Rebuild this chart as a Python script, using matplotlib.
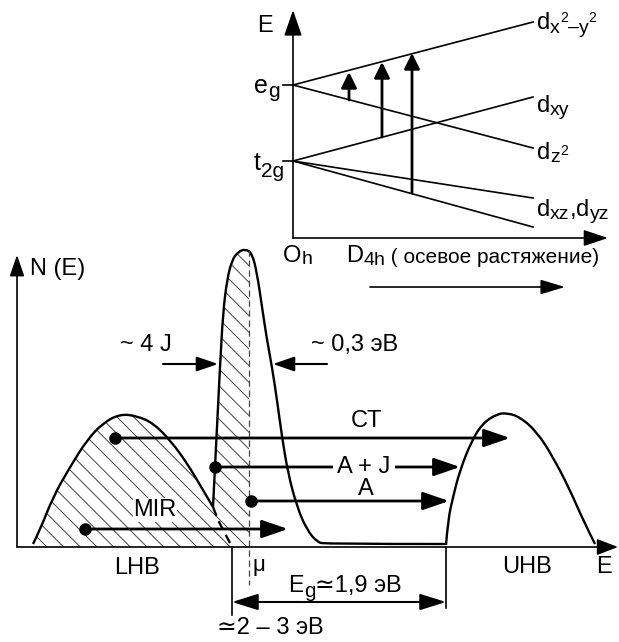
import numpy as np
import matplotlib
matplotlib.use('Agg')
import matplotlib.pyplot as plt
from matplotlib.path import Path
from matplotlib.patches import PathPatch, Polygon

plt.rcParams['font.family'] = ['Liberation Sans', 'DejaVu Sans']
plt.rcParams['hatch.linewidth'] = 0.7

# --- crystal field splitting (top) ---
eg_level = 85
t2g_level = 161
level_x0 = 293
level_x1 = 533
# end heights of the split levels
dx2y2_end = 22
dz2_end = 148
dxy_end = 97
dxz_end = 198
dyz_end = 227
# vertical transitions: x, bottom, top
trans_x = [349, 382, 412]
trans_lo = [100, 137, 193]
trans_hi = [72, 62, 53]

# --- density of states (bottom) ---
lhb_x = [33, 40, 53, 70, 87, 103, 120, 137, 153, 170, 187, 203, 213]
lhb_y = [544, 530, 497, 467, 440, 423, 414, 416, 423, 440, 463, 490, 507]
lhb_tail_x = [213, 218, 230]
lhb_tail_y = [507, 520, 543]

peak_left_x = [213, 215, 218, 220, 223, 227, 232, 238, 245]
peak_left_y = [507, 467, 407, 367, 313, 280, 260, 252, 249]
peak_right_x = [245, 252, 257, 262, 267, 272, 277, 282, 288, 297, 307, 317, 325, 446]
peak_right_y = [249, 253, 273, 307, 340, 367, 400, 437, 473, 507, 530, 542, 544, 544]

uhb_x = [446, 448, 453, 460, 472, 483, 497, 507, 520, 537, 553, 570, 583, 595]
uhb_y = [545, 520, 497, 470, 440, 423, 414, 413, 417, 432, 457, 490, 520, 544]

mu_x = 249
gap_left = 232
gap_right = 446

# transitions: start x, end x, y
trans_names = ['CT', 'A + J', 'A', 'MIR']
trans_start = [115, 215, 251, 85]
trans_end = [510, 460, 449, 288]
trans_y = [438, 467, 501, 529]


def smooth(xs, ys):
    pts = list(zip(xs, ys))
    verts = [pts[0]]
    codes = [Path.MOVETO]
    for i in range(1, len(pts) - 1):
        if i == len(pts) - 2:
            end = pts[-1]
        else:
            end = ((pts[i][0] + pts[i + 1][0]) / 2, (pts[i][1] + pts[i + 1][1]) / 2)
        verts += [pts[i], end]
        codes += [Path.CURVE3, Path.CURVE3]
    return Path(verts, codes)


def arrow(ax, x0, y0, x1, y1, hl, hw, lw=1.5):
    ax.annotate('', xy=(x1, y1), xytext=(x0, y0),
                arrowprops=dict(arrowstyle='-|>,head_length=%g,head_width=%g' % (hl, hw),
                                mutation_scale=10, lw=lw, color='k',
                                shrinkA=0, shrinkB=0))


fig = plt.figure(figsize=(6.19, 6.42), dpi=100)
ax = fig.add_axes([0, 0, 1, 1])
ax.set_xlim(0, 619)
ax.set_ylim(642, 0)
ax.axis('off')
renderer = fig.canvas.get_renderer()


def label(x, y, parts, **kw):
    # parts: (text, size, shift down in px), placed one after another on a baseline
    for s, size, dy in parts:
        t = ax.text(x, y + dy, s, fontsize=size, ha='left', va='baseline', **kw)
        x += t.get_window_extent(renderer).width


fs = 17
ft = 17
fsub = 14
fsup = 10

# top panel axes
arrow(ax, level_x0, 238, level_x0, 10, 1.6, 0.55, lw=1.2)
arrow(ax, level_x0, 238, 608, 238, 1.5, 0.5, lw=1.2)
ax.plot([283, level_x0], [eg_level, eg_level], 'k', lw=1.2)
ax.plot([283, level_x0], [t2g_level, t2g_level], 'k', lw=1.2)
for y0, y1 in [(eg_level, dx2y2_end), (eg_level, dz2_end), (t2g_level, dxy_end),
               (t2g_level, dxz_end), (t2g_level, dyz_end)]:
    ax.plot([level_x0, level_x1], [y0, y1], 'k', lw=1.2)
for x, lo, hi in zip(trans_x, trans_lo, trans_hi):
    arrow(ax, x, lo, x, hi, 0.95, 0.47, lw=2)

label(257, 32, [('E', ft, 0)])
label(254, 93, [('e', ft + 1, 0), ('g', fsub + 1, 4)])
label(254, 170, [('t', ft + 1, 0), ('2g', fsub + 1, 7)])
label(537, 29, [('d', ft, 0), ('x', fsub, 4), ('2', fsup, -7), ('–', fsub, 3),
                ('y', fsub, 4), ('2', fsup, -7)])
label(537, 112, [('d', ft, 0), ('xy', fsub, 3)])
label(537, 159, [('d', ft, 0), ('z', fsub, 3), ('2', fsup, -4)])
label(537, 216, [('d', ft, 0), ('xz', fsub, 3), (',', ft, 0), ('d', ft, 0), ('yz', fsub, 3)])
label(283, 262, [('O', ft, 0), ('h', fsub, 2)])
label(346, 262, [('D', ft, 0), ('4h', fsub, 3), (' ( осевое растяжение)', 15, 1)])
arrow(ax, 370, 287, 565, 287, 1.5, 0.45, lw=1.2)

# bottom panel axes
arrow(ax, 17, 547, 17, 255, 1.3, 0.45, lw=1.2)
arrow(ax, 17, 547, 618, 547, 1.3, 0.5, lw=1.2)
ax.text(30, 269, 'N (E)', fontsize=fs, ha='left', va='center')

# hatched occupied states
hx = lhb_x + peak_left_x[1:] + [mu_x, mu_x, lhb_x[0]]
hy = lhb_y + peak_left_y[1:] + [250, 547, 547]
ax.add_patch(Polygon(np.column_stack([hx, hy]), closed=True, facecolor='none',
                     edgecolor='#444444', lw=0, hatch='\\\\'))

for xs, ys in [(lhb_x, lhb_y), (peak_left_x + peak_right_x[1:], peak_left_y + peak_right_y[1:]),
               (uhb_x, uhb_y)]:
    ax.add_patch(PathPatch(smooth(xs, ys), facecolor='none', edgecolor='k', lw=1.7))
ax.plot(lhb_tail_x, lhb_tail_y, 'k', lw=1.7, dashes=(4, 2.5))
ax.plot([mu_x, mu_x], [250, 585], color='#444444', lw=0.9, dashes=(5, 3))

# width markers
ax.text(146, 345, '~ 4 J', fontsize=fs, ha='center', va='center')
arrow(ax, 163, 364, 218, 364, 1.3, 0.45, lw=1.5)
ax.text(355, 345, '~ 0,3 эВ', fontsize=fs, ha='center', va='center')
arrow(ax, 327, 364, 273, 364, 1.3, 0.45, lw=1.5)

# transitions
for name, x0, x1, y in zip(trans_names, trans_start, trans_end, trans_y):
    arrow(ax, x0, y, x1, y, 1.6, 0.55, lw=2)
    ax.plot(x0, y, 'o', color='k', ms=8)
ax.text(366, 421, 'CT', fontsize=fs, ha='center', va='center')
ax.text(364, 467, 'A + J', fontsize=fs, ha='center', va='center',
        bbox=dict(facecolor='white', edgecolor='none', pad=3))
ax.text(366, 489, 'A', fontsize=fs, ha='center', va='center')
ax.text(155, 510, 'MIR', fontsize=fs, ha='center', va='center',
        bbox=dict(facecolor='white', edgecolor='none', pad=0.5))

# band labels and gap
ax.text(137, 568, 'LHB', fontsize=fs, ha='center', va='center')
ax.text(527, 567, 'UHB', fontsize=fs, ha='center', va='center')
ax.text(604, 567, 'E', fontsize=fs, ha='center', va='center')
ax.text(259, 566, 'μ', fontsize=16, ha='center', va='center')
ax.plot([gap_left, gap_left], [547, 615], 'k', lw=1.2)
ax.plot([gap_right, gap_right], [547, 608], 'k', lw=1.2)
ax.annotate('', xy=(gap_left, 602), xytext=(gap_right, 602),
            arrowprops=dict(arrowstyle='<|-|>,head_length=1.6,head_width=0.5',
                            mutation_scale=10, lw=1.5, color='k', shrinkA=0, shrinkB=0))
label(288, 592, [('E', fs, 0), ('g', 15, 5), ('≃1,9 эВ', fs, 0)],
      bbox=dict(facecolor='white', edgecolor='none', pad=0.3))
ax.text(270, 628, '≃2 – 3 эВ', fontsize=fs, ha='center', va='center')

fig.savefig('out.png', dpi=100)
